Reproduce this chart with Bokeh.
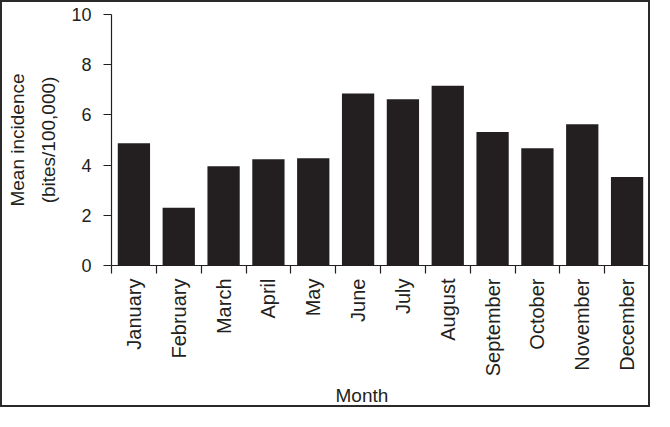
import math
from bokeh.plotting import figure
from bokeh.models import Range1d, FixedTicker, Title
from bokeh.embed import file_html
from bokeh.resources import INLINE

months = ["January", "February", "March", "April", "May", "June",
          "July", "August", "September", "October", "November", "December"]
incidence = [4.87, 2.30, 3.95, 4.23, 4.27, 6.85, 6.62, 7.16, 5.32, 4.67, 5.63, 3.53]
y_ticks = [0, 2, 4, 6, 8, 10]

INK = "#231f20"
FONT = "Liberation Sans"

positions = [i + 0.5 for i in range(len(months))]
boundaries = list(range(len(months) + 1))

p = figure(width=650, height=407, x_range=Range1d(0, len(months)), y_range=Range1d(0, 10),
           output_backend="svg", toolbar_location=None,
           min_border_left=109, min_border_right=3, min_border_top=12, min_border_bottom=143)
p.styles = {"border": "2px solid #2a2a2a"}
p.outline_line_color = None
p.grid.visible = False
p.background_fill_color = "white"
p.border_fill_color = "white"

p.vbar(x=positions, top=incidence, width=0.72, bottom=0, fill_color=INK, line_color=None)

xa = p.xaxis[0]
xa.ticker = FixedTicker(ticks=positions, minor_ticks=boundaries)
xa.major_label_overrides = {pos: m for pos, m in zip(positions, months)}
xa.major_tick_out = 0
xa.major_tick_in = 0
xa.minor_tick_out = 8
xa.minor_tick_in = 0
xa.minor_tick_line_color = INK
xa.minor_tick_line_width = 1.2
xa.axis_line_color = INK
xa.axis_line_width = 1.2
xa.major_label_orientation = math.pi / 2
xa.major_label_standoff = 5
xa.major_label_text_font = FONT
xa.major_label_text_font_size = "20px"
xa.major_label_text_color = INK

ya = p.yaxis[0]
ya.ticker = FixedTicker(ticks=y_ticks)
ya.major_tick_out = 8
ya.major_tick_in = 0
ya.minor_tick_out = 0
ya.minor_tick_in = 0
ya.major_tick_line_color = INK
ya.major_tick_line_width = 1.2
ya.axis_line_color = INK
ya.axis_line_width = 1.2
ya.major_label_standoff = 12
ya.major_label_text_font = FONT
ya.major_label_text_font_size = "18px"
ya.major_label_text_color = INK
ya.axis_label = "Mean incidence\n(bites/100,000)"
ya.axis_label_standoff = 9
ya.axis_label_text_font = FONT
ya.axis_label_text_font_size = "19px"
ya.axis_label_text_font_style = "normal"
ya.axis_label_text_color = INK
ya.axis_label_text_line_height = 1.5

p.add_layout(Title(text="Month", align="left", offset=224, standoff=7,
                   text_font=FONT, text_font_size="19px", text_font_style="normal",
                   text_color=INK), "below")

open("out.html", "w").write(file_html(p, INLINE))
